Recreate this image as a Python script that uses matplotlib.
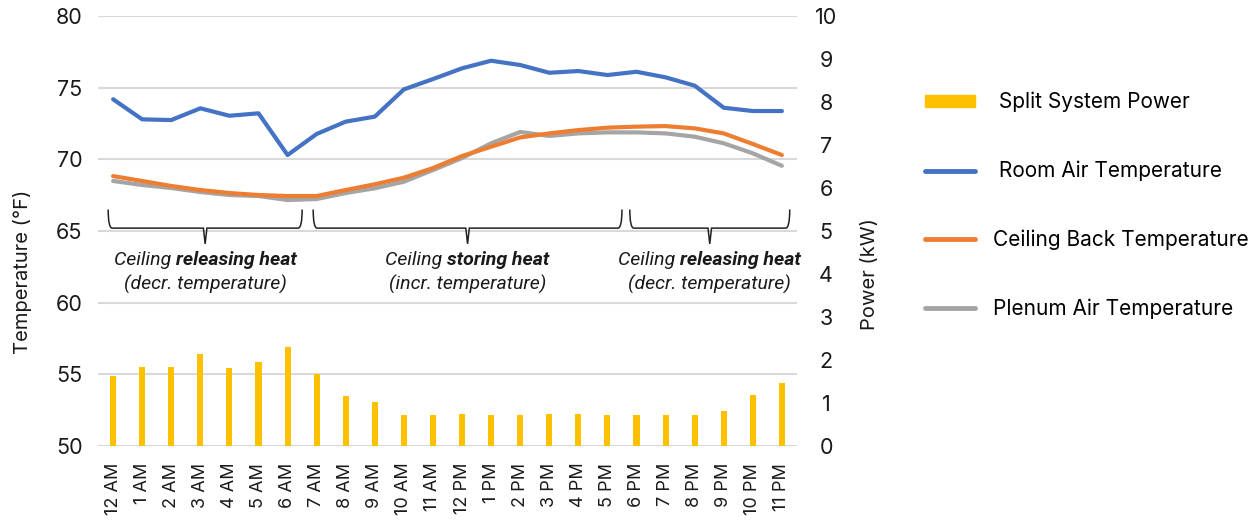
import matplotlib
matplotlib.use("Agg")
import matplotlib.pyplot as plt
from matplotlib.path import Path
from matplotlib.patches import PathPatch, Patch
from matplotlib.lines import Line2D
import numpy as np

hours = ["12 AM", "1 AM", "2 AM", "3 AM", "4 AM", "5 AM", "6 AM", "7 AM", "8 AM", "9 AM",
         "10 AM", "11 AM", "12 PM", "1 PM", "2 PM", "3 PM", "4 PM", "5 PM", "6 PM", "7 PM",
         "8 PM", "9 PM", "10 PM", "11 PM"]
power_kw = [1.63, 1.84, 1.84, 2.14, 1.82, 1.95, 2.31, 1.68, 1.17, 1.03, 0.71, 0.73,
            0.74, 0.73, 0.73, 0.74, 0.74, 0.73, 0.73, 0.73, 0.73, 0.82, 1.19, 1.46]
room_air = [74.19, 72.79, 72.74, 73.56, 73.04, 73.21, 70.30, 71.77, 72.63, 72.98, 74.88, 75.60,
            76.35, 76.88, 76.58, 76.04, 76.16, 75.88, 76.11, 75.72, 75.14, 73.60, 73.37, 73.37]
ceiling_back = [68.83, 68.49, 68.14, 67.86, 67.65, 67.51, 67.44, 67.44, 67.86, 68.26, 68.72, 69.39,
                70.23, 70.88, 71.53, 71.81, 72.04, 72.21, 72.28, 72.32, 72.16, 71.81, 71.07, 70.30]
plenum_air = [68.49, 68.21, 68.00, 67.72, 67.51, 67.44, 67.16, 67.23, 67.65, 67.98, 68.44, 69.25,
              70.09, 71.12, 71.91, 71.63, 71.81, 71.88, 71.88, 71.81, 71.58, 71.12, 70.42, 69.55]

temp_ticks = [50, 55, 60, 65, 70, 75, 80]
power_ticks = list(range(0, 11))

annotations = [
    ("Ceiling ", "releasing heat", "(decr. temperature)", -0.17, 6.5),
    ("Ceiling ", "storing heat", "(incr. temperature)", 6.88, 17.5),
    ("Ceiling ", "releasing heat", "(decr. temperature)", 17.77, 23.27),
]

YELLOW = "#FFC000"
BLUE = "#4472C4"
ORANGE = "#ED7D31"
GRAY = "#A5A5A5"
GRID = "#D9D9D9"
TXT = "#1a1a1a"

plt.rcParams["font.family"] = ["Inter", "DejaVu Sans"]

W, H = 1252, 520
fig = plt.figure(figsize=(W / 100, H / 100), dpi=100)
ax = fig.add_axes([98 / W, 74 / H, 699 / W, 430 / H])
ax2 = ax.twinx()

x = np.arange(len(hours))

ax2.bar(x, power_kw, width=0.21, color=YELLOW, zorder=2)
ax.plot(x, room_air, color=BLUE, lw=3.0, solid_capstyle="round", zorder=3)
ax.plot(x, plenum_air, color=GRAY, lw=3.0, solid_capstyle="round", zorder=3)
ax.plot(x, ceiling_back, color=ORANGE, lw=3.0, solid_capstyle="round", zorder=3)

ax.set_xlim(-0.52, 23.52)
ax.set_ylim(50, 80)
ax2.set_ylim(0, 10)
ax.set_yticks(temp_ticks)
ax2.set_yticks(power_ticks)
ax.set_xticks(x)
ax.set_xticklabels(hours, rotation=90, fontsize=13, color=TXT)
ax.tick_params(axis="y", labelsize=15.5, colors=TXT, length=0, pad=11)
ax2.tick_params(axis="y", labelsize=15.5, colors=TXT, length=0, pad=21)
for lab in ax2.get_yticklabels():
    lab.set_ha("center")
ax.tick_params(axis="x", length=0, pad=12)
ax.yaxis.grid(True, color=GRID, lw=1.5)
ax.set_axisbelow(True)
for a in (ax, ax2):
    for s in a.spines.values():
        s.set_visible(False)

ax.set_ylabel("Temperature (°F)", fontsize=14.5, color=TXT, va="center", ha="center")
ax.yaxis.set_label_coords((22 - 98) / 699, (446 - 272) / 430)
ax2.set_ylabel("Power (kW)", fontsize=14.5, color=TXT, va="center", ha="center")
ax2.yaxis.set_label_coords((870 - 98) / 699, (446 - 274) / 430)

# braces and annotation text
ytop, ybot, ytip = 66.5, 65.2, 64.1
for pre, bold, sub, x0, x1 in annotations:
    xm = (x0 + x1) / 2
    dx = 0.14
    w = 0.06
    verts = [(x0, ytop), (x0, ybot), (x0 + dx, ybot),
             (xm - w, ybot), (xm, ytip), (xm + w, ybot),
             (x1 - dx, ybot), (x1, ybot), (x1, ytop)]
    codes = [Path.MOVETO, Path.CURVE3, Path.CURVE3,
             Path.LINETO, Path.LINETO, Path.LINETO,
             Path.LINETO, Path.CURVE3, Path.CURVE3]
    ax.add_patch(PathPatch(Path(verts, codes), fill=False, ec="#222222", lw=1.1, zorder=4))

fig.canvas.draw()
r = fig.canvas.get_renderer()
AFS = 14
for pre, bold, sub, x0, x1 in annotations:
    xm = (x0 + x1) / 2
    t1 = ax.text(0, 0, pre, fontsize=AFS, style="italic", family="Roboto", color=TXT)
    t2 = ax.text(0, 0, bold, fontsize=AFS, style="italic", weight="bold", family="Roboto", color=TXT)
    w1 = t1.get_window_extent(r).width
    w2 = t2.get_window_extent(r).width
    xc_px = ax.transData.transform((xm, 0))[0]
    start = xc_px - (w1 + w2) / 2
    ypx = ax.transData.transform((0, 62.97))[1]
    inv = ax.transData.inverted()
    t1.set_position(inv.transform((start, ypx))); t1.set_va("center")
    t2.set_position(inv.transform((start + w1, ypx))); t2.set_va("center")
    ax.text(xm, 61.3, sub, fontsize=AFS, style="italic", family="Roboto",
            color=TXT, ha="center", va="center")

handles = [Patch(color=YELLOW),
           Line2D([], [], color=BLUE, lw=3.5, solid_capstyle="round"),
           Line2D([], [], color=ORANGE, lw=3.5, solid_capstyle="round"),
           Line2D([], [], color=GRAY, lw=3.5, solid_capstyle="round")]
labels = [" Split System Power", " Room Air Temperature", "Ceiling Back Temperature", "Plenum Air Temperature"]
fig.legend(handles, labels, loc="upper left", bbox_to_anchor=(925 / W, 1 - 92 / H),
           frameon=False, fontsize=15, handlelength=2.4, handleheight=0.55,
           labelspacing=2.32, handletextpad=0.87, borderaxespad=0, borderpad=0)

fig.savefig("out.png", dpi=100)
